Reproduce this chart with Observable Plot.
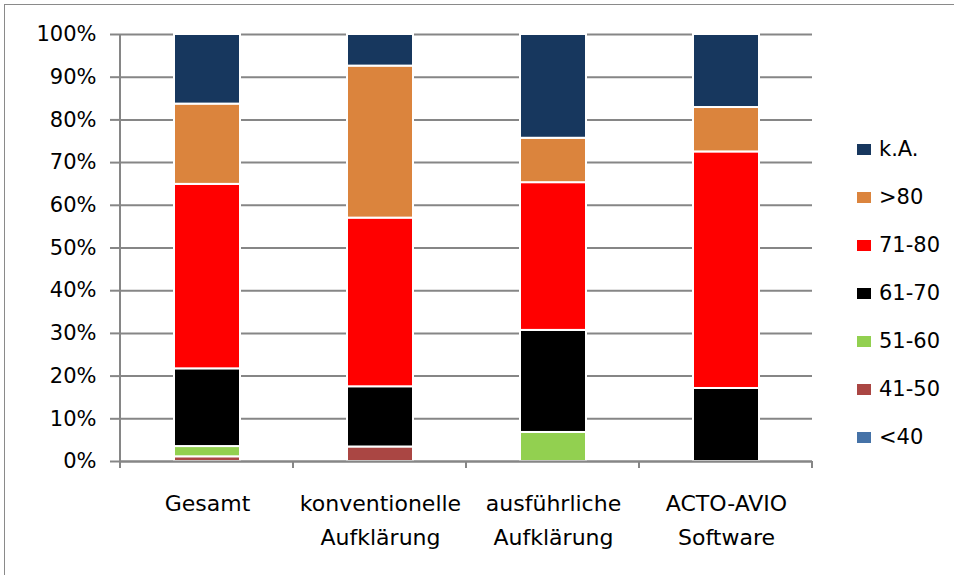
<!DOCTYPE html>
<html>
<head>
<meta charset="utf-8">
<script src="https://cdn.jsdelivr.net/npm/d3@7"></script>
<script src="https://cdn.jsdelivr.net/npm/@observablehq/plot@0.6"></script>
<style>
  html, body { margin: 0; padding: 0; background: #fff; }
  #wrap { position: relative; width: 954px; height: 575px; overflow: hidden; font-family: "DejaVu Sans", sans-serif; }
  #border { position: absolute; left: 4px; top: 4px; right: -10px; bottom: -10px; border-left: 1.5px solid #8a8a8a; border-top: 1.5px solid #8a8a8a; pointer-events: none; }
  #legend { position: absolute; left: 857px; top: 125px; }
  .row { height: 48px; display: flex; align-items: center; font-size: 21px; color: #000; }
  .sw { width: 14px; height: 11px; margin-right: 8px; }
  svg { position: absolute; left: 0; top: 0; }
</style>
</head>
<body>
<div id="wrap"><div id="chart"></div><div id="legend"></div><div id="border"></div></div>
<script>
const categories = ["Gesamt", "konventionelle\nAufklärung", "ausführliche\nAufklärung", "ACTO-AVIO\nSoftware"];
const series = ["<40", "41-50", "51-60", "61-70", "71-80", ">80", "k.A."];
const colors = ["#4572A7", "#AA4643", "#92D050", "#000000", "#FF0000", "#DB843D", "#17375E"];
// percentage values per series (bottom to top), one per category
const v_lt40  = [0,    0,    0,    0];
const v_41_50 = [1.1,  3.4,  0,    0];
const v_51_60 = [2.4,  0,    6.8,  0];
const v_61_70 = [18.2, 14.1, 23.9, 17.1];
const v_71_80 = [43.2, 39.5, 34.6, 55.4];
const v_gt80  = [18.8, 35.6, 10.4, 10.4];
const v_kA    = [16.3, 7.4,  24.3, 17.1];
const yTicks = [0, 10, 20, 30, 40, 50, 60, 70, 80, 90, 100];

const valueSets = [v_lt40, v_41_50, v_51_60, v_61_70, v_71_80, v_gt80, v_kA];
const data = [];
series.forEach((s, i) => categories.forEach((c, j) => data.push({series: s, category: c, value: valueSets[i][j]})));

const gridColor = "#868686";

function boundaryTicks(index, scales, values, dims) {
  const g = d3.create("svg:g");
  const x0 = dims.marginLeft, x1 = dims.width - dims.marginRight;
  const yb = dims.height - dims.marginBottom, yt = dims.marginTop;
  g.append("line").attr("x1", x0).attr("x2", x0).attr("y1", yt).attr("y2", yb + 7)
    .attr("stroke", gridColor).attr("stroke-width", 2);
  const step = (x1 - x0) / categories.length;
  for (let i = 1; i <= categories.length; i++) {
    const x = x0 + i * step;
    g.append("line").attr("x1", x).attr("x2", x).attr("y1", yb).attr("y2", yb + 7)
      .attr("stroke", gridColor).attr("stroke-width", 2);
  }
  return g.node();
}

const chart = Plot.plot({
  width: 954,
  height: 575,
  marginLeft: 120,
  marginRight: 142,
  marginTop: 34,
  marginBottom: 114,
  style: {fontFamily: "DejaVu Sans, sans-serif", fontSize: "21px", color: "#000", background: "transparent"},
  x: {domain: categories, paddingInner: 0.62, paddingOuter: 0.31, label: null},
  y: {domain: [0, 100], label: null},
  color: {domain: series, range: colors},
  marks: [
    Plot.ruleY(yTicks, {stroke: gridColor, strokeWidth: 2, strokeOpacity: 1}),
    Plot.barY(data.filter(d => d.value > 0), {
      x: "category", y: "value", fill: "series", z: "series",
      stroke: "white", strokeWidth: 2
    }),
    Plot.ruleY([0], {stroke: gridColor, strokeWidth: 2, strokeOpacity: 1}),
    Plot.axisY({ticks: yTicks, tickFormat: d => d + "%", tickSize: 10, tickPadding: 14, stroke: gridColor, strokeWidth: 2, strokeOpacity: 1, fontSize: 21, fill: "#000"}),
    Plot.axisX({tickSize: 0, tickPadding: 25, lineHeight: 1.55, fontSize: 22, fill: "#000"}),
    boundaryTicks
  ]
});
document.getElementById("chart").appendChild(chart);

const legend = document.getElementById("legend");
series.slice().reverse().forEach((s) => {
  const row = document.createElement("div");
  row.className = "row";
  const sw = document.createElement("div");
  sw.className = "sw";
  sw.style.background = colors[series.indexOf(s)];
  const t = document.createElement("span");
  t.textContent = s;
  row.appendChild(sw); row.appendChild(t);
  legend.appendChild(row);
});
</script>
</body>
</html>
